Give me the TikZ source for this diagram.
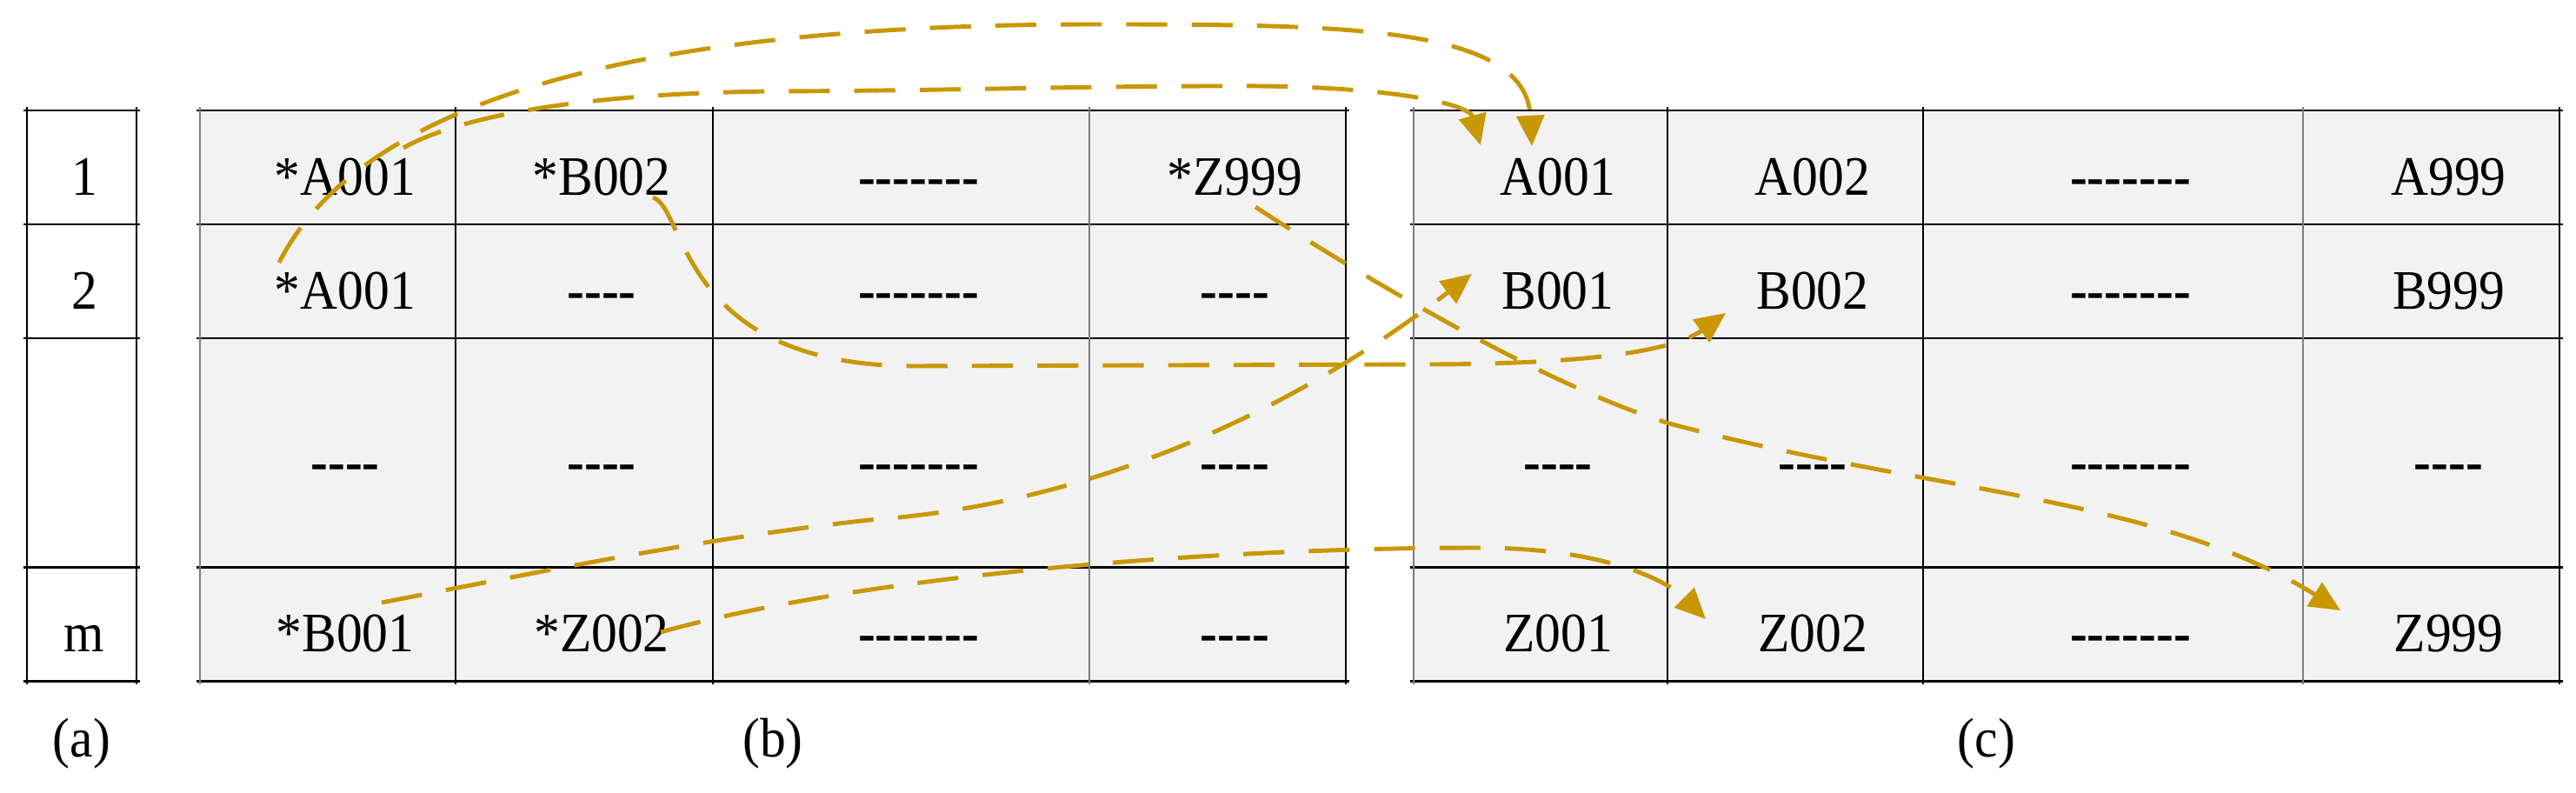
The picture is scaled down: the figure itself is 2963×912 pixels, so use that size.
\documentclass[tikz,border=0pt]{standalone}
\usepackage{fontspec}
\setmainfont{Liberation Serif}[FakeStretch=0.93]
\usetikzlibrary{arrows.meta}
\definecolor{arrowgold}{RGB}{201,151,0}
\definecolor{cellgray}{RGB}{242,242,242}
\definecolor{lightrule}{RGB}{125,125,125}
\newcommand{\hfour}{\textbf{\mbox{-}\mbox{-}\mbox{-}\mbox{-}}}
\newcommand{\hseven}{\textbf{\mbox{-}\mbox{-}\mbox{-}\mbox{-}\mbox{-}\mbox{-}\mbox{-}}}
\begin{document}
\begin{tikzpicture}[x=0.01cm,y=-0.01cm,
  txt/.style={anchor=base,inner sep=0pt,font=\fontsize{18.2}{20}\selectfont},
  hrule/.style={line width=0.85pt,black},
  vrule/.style={line width=0.55pt,black},
  vgray/.style={line width=0.55pt,lightrule},
  link/.style={draw=arrowgold,line width=1.4pt,dash pattern=on 13.4pt off 8pt,
    -{Triangle[length=10pt,width=9pt]}}]
\useasboundingbox (0,0) rectangle (2963,912);
% backgrounds
\fill[cellgray] (230,127) rectangle (1548,783);
\fill[cellgray] (1626,127) rectangle (2944,783);
% table (a)
\foreach \y in {127,258,389,652,783} \draw[hrule] (27,\y) -- (161,\y);
\foreach \x in {31,157} \draw[vrule] (\x,123) -- (\x,787);
% table (b)
\foreach \y in {127,258,389,652,783} \draw[hrule] (226,\y) -- (1552,\y);
\foreach \x in {230,1253} \draw[vgray] (\x,123) -- (\x,787);
\foreach \x in {524,820,1548} \draw[vrule] (\x,123) -- (\x,787);
% table (c)
\foreach \y in {127,258,389,652,783} \draw[hrule] (1622,\y) -- (2948,\y);
\foreach \x in {1626,2649} \draw[vgray] (\x,123) -- (\x,787);
\foreach \x in {1918,2212,2944} \draw[vrule] (\x,123) -- (\x,787);
% index column
\node[txt] (a1) at (97,224.5) {1};
\node[txt] (a2) at (97,355.5) {2};
\node[txt] (am) at (97,749.5) {m};
% table (b) texts
\node[txt] (b11) at (397,224.5) {*A001};
\node[txt] (b12) at (692,224.5) {*B002};
\node[txt] (b13) at (1056.5,224.5) {\hseven};
\node[txt] (b14) at (1420.5,224.5) {*Z999};
\node[txt] (b21) at (397,355.5) {*A001};
\node[txt] (b22) at (692,355.5) {\hfour};
\node[txt] (b23) at (1056.5,355.5) {\hseven};
\node[txt] (b24) at (1420.5,355.5) {\hfour};
\node[txt] (b31) at (397,552.5) {\hfour};
\node[txt] (b32) at (692,552.5) {\hfour};
\node[txt] (b33) at (1056.5,552.5) {\hseven};
\node[txt] (b34) at (1420.5,552.5) {\hfour};
\node[txt] (b41) at (397,749.5) {*B001};
\node[txt] (b42) at (692,749.5) {*Z002};
\node[txt] (b43) at (1056.5,749.5) {\hseven};
\node[txt] (b44) at (1420.5,749.5) {\hfour};
% table (c) texts
\node[txt] (c11) at (1792,224.5) {A001};
\node[txt] (c12) at (2085,224.5) {A002};
\node[txt] (c13) at (2450.5,224.5) {\hseven};
\node[txt] (c14) at (2816.5,224.5) {A999};
\node[txt] (c21) at (1792,355.5) {B001};
\node[txt] (c22) at (2085,355.5) {B002};
\node[txt] (c23) at (2450.5,355.5) {\hseven};
\node[txt] (c24) at (2816.5,355.5) {B999};
\node[txt] (c31) at (1792,552.5) {\hfour};
\node[txt] (c32) at (2085,552.5) {\hfour};
\node[txt] (c33) at (2450.5,552.5) {\hseven};
\node[txt] (c34) at (2816.5,552.5) {\hfour};
\node[txt] (c41) at (1792,749.5) {Z001};
\node[txt] (c42) at (2085,749.5) {Z002};
\node[txt] (c43) at (2450.5,749.5) {\hseven};
\node[txt] (c44) at (2816.5,749.5) {Z999};
% captions
\node[txt] (la) at (94,870) {(a)};
\node[txt] (lb) at (889,870) {(b)};
\node[txt] (lc) at (2285,870) {(c)};
% connectors
\draw[link] ([shift={(-76,-53.5)}]b21.base) .. controls (421,106) and (760,28) .. (1260,28)
  .. controls (1550,28) and (1755,30) .. ([shift={(-30,-56.5)}]c11.base);
\draw[link] ([shift={(67,-54.5)}]b11.base) .. controls (540,128) and (700,106) .. (900,105)
  .. controls (1100,104) and (1250,99) .. (1400,99)
  .. controls (1600,97) and (1690,120) .. ([shift={(-89,-57.5)}]c11.base);
\draw[link] ([shift={(59,2.5)}]b12.base) .. controls (790,240) and (780,420) .. (1050,421)
  -- (1650,419) .. controls (1850,418) and (1930,400) .. ([shift={(-100,4.5)}]c22.base);
\draw[link] ([shift={(23.5,13.5)}]b14.base) .. controls (1570,320) and (1777,443) .. (1920,487)
  .. controls (2210,565) and (2480,570) .. ([shift={(-124.5,-47.5)}]c44.base);
\draw[link] ([shift={(42,-56.5)}]b41.base) .. controls (600,662) and (800,620) .. (1000,598)
  .. controls (1280,578) and (1511,455) .. ([shift={(-99,-40.5)}]c21.base);
\draw[link] ([shift={(68,-22.5)}]b42.base) .. controls (1000,660) and (1400,630) .. (1700,630)
  .. controls (1850,630) and (1920,670) .. ([shift={(-123,-37.5)}]c42.base);
\end{tikzpicture}
\end{document}
